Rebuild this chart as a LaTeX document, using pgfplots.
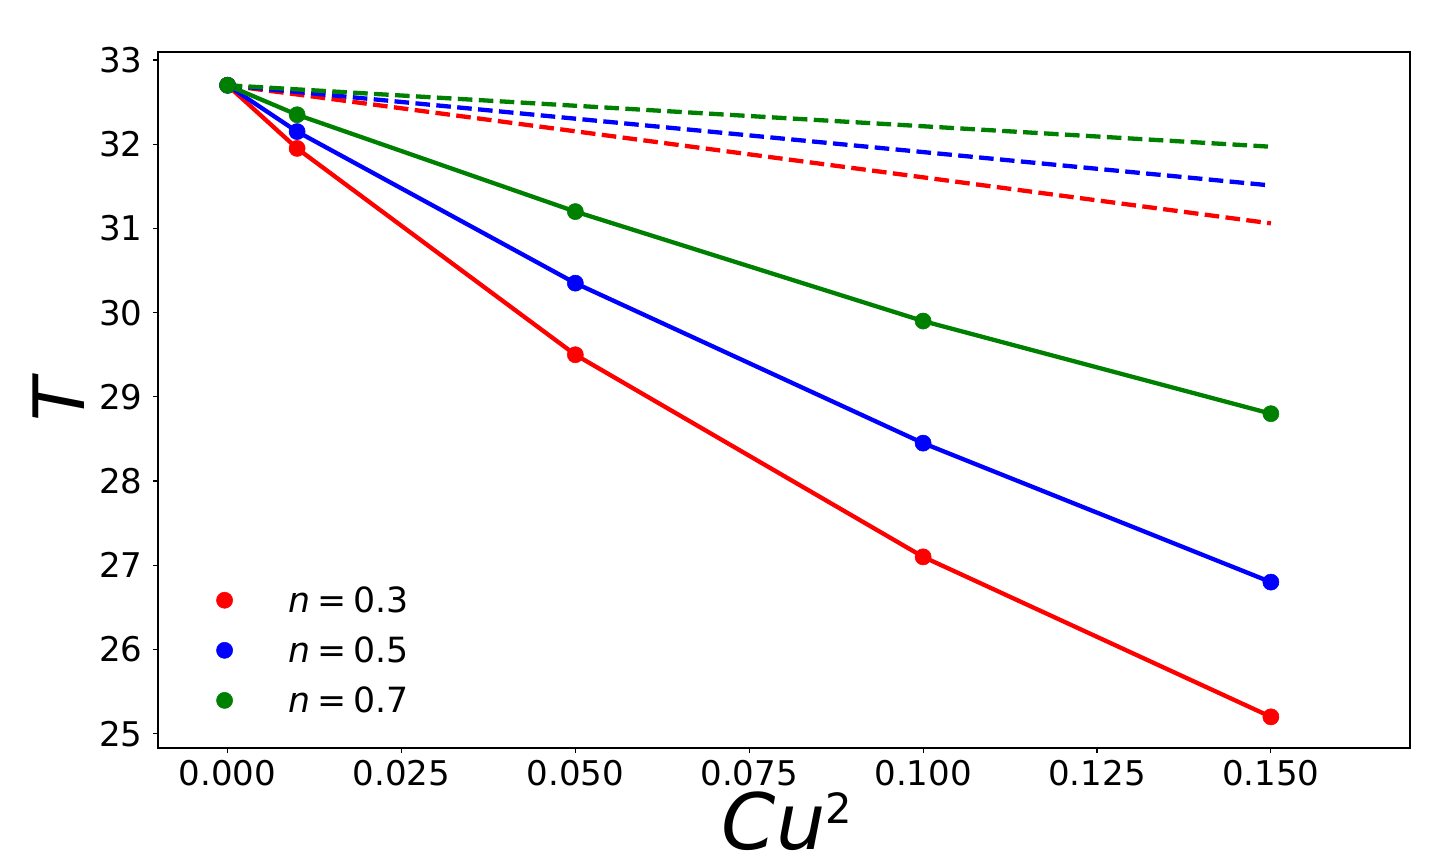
\documentclass[border=0pt]{standalone}
\usepackage{pgfplots}
\pgfplotsset{compat=1.18}
\usepackage{fontspec}
\setmainfont{DejaVu Sans}
\definecolor{mplgreen}{RGB}{0,128,0}
\definecolor{mplred}{RGB}{255,0,0}
\definecolor{mplblue}{RGB}{0,0,255}
\begin{document}
\begin{tikzpicture}
\useasboundingbox (0,0) rectangle (1036.8pt,616.32pt);
\begin{axis}[
  at={(113.76pt,77.76pt)}, anchor=south west,
  scale only axis, width=901.44pt, height=501.12pt,
  xmin=-0.01, xmax=0.17, ymin=24.83, ymax=33.095,
  axis line style={line width=0.8pt},
  tick align=outside, tick pos=lower,
  major tick length=3.5pt,
  every tick/.style={line width=0.8pt, black},
  xtick={0,0.025,0.05,0.075,0.1,0.125,0.15},
  xticklabels={0.000,0.025,0.050,0.075,0.100,0.125,0.150},
  ytick={25,26,27,28,29,30,31,32,33},
  yticklabels={25,26,27,28,29,30,31,32,33},
  xticklabel style={font=\fontsize{24.5}{28}\selectfont, inner sep=0pt, anchor=north, yshift=-5pt},
  yticklabel style={font=\fontsize{24.5}{28}\selectfont, inner sep=0pt, anchor=east, xshift=-7.5pt},
  xlabel={{\itshape Cu}\raisebox{19pt}{\fontsize{30}{30}\selectfont 2}},
  xlabel style={font=\fontsize{56}{60}\selectfont, at={(axis description cs:0.5,0)}, anchor=base, yshift=-73pt, xshift=2pt, inner sep=0pt},
  ylabel={\itshape T},
  ylabel style={font=\fontsize{51}{56}\selectfont, at={(axis description cs:-0.079,0.5)}, anchor=center, inner sep=0pt},
  legend cell align=left,
  legend style={draw=none, fill=none, font=\fontsize{25}{30}\selectfont,
    at={(axis description cs:0.0432,0.040)}, anchor=south west, row sep=12pt,
    /tikz/every odd column/.append style={column sep=38pt}},
]
% dashed lines
\addplot[forget plot, mplred, line width=3.1pt, dash pattern=on 10.5pt off 4.6pt] coordinates {(0,32.7) (0.15,31.06)};
\addplot[forget plot, mplblue, line width=3.1pt, dash pattern=on 10.5pt off 4.6pt] coordinates {(0,32.7) (0.15,31.51)};
\addplot[forget plot, mplgreen, line width=3.1pt, dash pattern=on 10.5pt off 4.6pt] coordinates {(0,32.7) (0.15,31.97)};
% solid lines
\addplot[forget plot, mplred, line width=3.1pt] coordinates {(0,32.7) (0.01,31.95) (0.05,29.5) (0.1,27.1) (0.15,25.2)};
\addplot[forget plot, mplblue, line width=3.1pt] coordinates {(0,32.7) (0.01,32.15) (0.05,30.35) (0.1,28.45) (0.15,26.8)};
\addplot[forget plot, mplgreen, line width=3.1pt] coordinates {(0,32.7) (0.01,32.35) (0.05,31.2) (0.1,29.9) (0.15,28.8)};
% markers
\addplot[only marks, mark=*, mark size=5.8pt, mplred] coordinates {(0,32.7) (0.01,31.95) (0.05,29.5) (0.1,27.1) (0.15,25.2)};
\addlegendentry{\textit{n}\hspace{0.2em}=\hspace{0.2em}0.3}
\addplot[only marks, mark=*, mark size=5.8pt, mplblue] coordinates {(0,32.7) (0.01,32.15) (0.05,30.35) (0.1,28.45) (0.15,26.8)};
\addlegendentry{\textit{n}\hspace{0.2em}=\hspace{0.2em}0.5}
\addplot[only marks, mark=*, mark size=5.8pt, mplgreen] coordinates {(0,32.7) (0.01,32.35) (0.05,31.2) (0.1,29.9) (0.15,28.8)};
\addlegendentry{\textit{n}\hspace{0.2em}=\hspace{0.2em}0.7}
\end{axis}
\end{tikzpicture}
\end{document}
